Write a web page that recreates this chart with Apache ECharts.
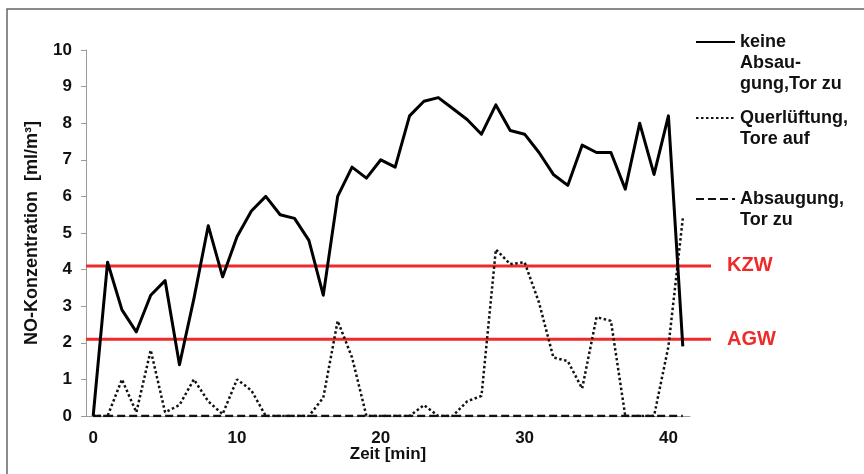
<!DOCTYPE html>
<html>
<head>
<meta charset="utf-8">
<script src="https://cdn.jsdelivr.net/npm/echarts@6/dist/echarts.min.js"></script>
<style>
  html, body { margin: 0; padding: 0; background: #fff; }
  #chart { width: 864px; height: 474px; }
</style>
</head>
<body>
<div id="chart"></div>
<script>
// Zeit [min]
var minutes = [];
for (var i = 0; i <= 41; i++) minutes.push(String(i));

// NO-Konzentration [ml/m³]
var keineAbsaugung = [0, 4.2, 2.9, 2.3, 3.3, 3.7, 1.4, 3.2, 5.2, 3.8,
    4.9, 5.6, 6.0, 5.5, 5.4, 4.8, 3.3, 6.0, 6.8, 6.5,
    7.0, 6.8, 8.2, 8.6, 8.7, 8.4, 8.1, 7.7, 8.5, 7.8,
    7.7, 7.2, 6.6, 6.3, 7.4, 7.2, 7.2, 6.2, 8.0, 6.6,
    8.2, 1.9];
var querlueftung = [0, 0, 1.0, 0.1, 1.8, 0.1, 0.3, 1.0, 0.4, 0.05,
    1.0, 0.7, 0, 0, 0, 0, 0.5, 2.6, 1.6, 0,
    0, 0, 0, 0.3, 0, 0, 0.4, 0.55, 4.55, 4.15,
    4.2, 3.1, 1.6, 1.5, 0.75, 2.7, 2.6, 0, 0, 0,
    1.9, 5.4];
var absaugung = [0, 0, 0, 0, 0, 0, 0, 0, 0, 0,
    0, 0, 0, 0, 0, 0, 0, 0, 0, 0,
    0, 0, 0, 0, 0, 0, 0, 0, 0, 0,
    0, 0, 0, 0, 0, 0, 0, 0, 0, 0,
    0, 0];

// Grenzwerte
var limitNames = ['KZW', 'AGW'];
var limitValues = [4.1, 2.1];

var seriesNames = ['keine\nAbsau-\ngung,Tor zu', 'Querlüftung,\nTore auf', 'Absaugung,\nTor zu'];

var myChart = echarts.init(document.getElementById('chart'));

var fontFam = '"Liberation Sans", Arial, sans-serif';
var red = '#ee2a2a';
var axisGrey = '#9a9a9a';

// legende: icon auf Höhe der ersten Textzeile (leere Zeilen oben zum Zentrieren)
function legendItem(name, lines, top) {
    return {
        left: 695,
        top: top,
        padding: 0,
        orient: 'vertical',
        itemWidth: 39,
        itemHeight: 14,
        data: [name],
        itemStyle: { opacity: 0 },
        formatter: function (n) {
            var pre = '';
            for (var k = 1; k < lines; k++) pre += '\n';
            return pre + n;
        },
        textStyle: {
            fontFamily: fontFam,
            fontWeight: 'bold',
            fontSize: 18,
            lineHeight: 21,
            color: '#111'
        }
    };
}

var limitSeries = limitNames.map(function (n, k) {
    return {
        name: n,
        type: 'line',
        xAxisIndex: 1,
        yAxisIndex: 1,
        data: [[0, limitValues[k]], [1, limitValues[k]]],
        symbol: 'none',
        silent: true,
        z: 1,
        lineStyle: { color: red, width: 3 },
        endLabel: {
            show: true,
            formatter: n,
            distance: 16,
            color: red,
            fontFamily: fontFam,
            fontWeight: 'bold',
            fontSize: 20
        }
    };
});

option = {
    backgroundColor: '#fff',
    animation: false,
    graphic: [{
        type: 'rect',
        shape: { x: 7, y: 9, width: 880, height: 500 },
        style: { fill: 'none', stroke: '#666', lineWidth: 1.5 },
        silent: true
    }],
    legend: [
        legendItem(seriesNames[0], 3, -10.5),
        legendItem(seriesNames[1], 2, 86.5),
        legendItem(seriesNames[2], 2, 167.5)
    ],
    grid: [
        { left: 86, right: 174, top: 50, bottom: 58, containLabel: false },
        { left: 86, right: 153, top: 50, bottom: 58, containLabel: false }
    ],
    xAxis: [{
        type: 'category',
        gridIndex: 0,
        data: minutes,
        boundaryGap: true,
        name: 'Zeit [min]',
        nameLocation: 'middle',
        nameGap: 30,
        nameMoveOverlap: false,
        nameTextStyle: { fontFamily: fontFam, fontWeight: 'bold', fontSize: 17, color: '#111' },
        axisLine: { lineStyle: { color: axisGrey, width: 1 } },
        axisTick: { interval: 0, alignWithLabel: true, length: 5, lineStyle: { color: axisGrey } },
        axisLabel: {
            interval: 9,
            margin: 14,
            fontFamily: fontFam,
            fontWeight: 'bold',
            fontSize: 17,
            color: '#111'
        },
        splitLine: { show: false }
    }, {
        type: 'value',
        gridIndex: 1,
        min: 0,
        max: 1,
        show: false
    }],
    yAxis: [{
        type: 'value',
        gridIndex: 0,
        min: 0,
        max: 10,
        interval: 1,
        name: 'NO-Konzentration  [ml/m³]',
        nameLocation: 'middle',
        nameGap: 45,
        nameTextStyle: { fontFamily: fontFam, fontWeight: 'bold', fontSize: 18, color: '#111' },
        axisLine: { show: true, lineStyle: { color: axisGrey, width: 1 } },
        axisTick: { show: true, length: 5, lineStyle: { color: axisGrey } },
        axisLabel: {
            margin: 14,
            fontFamily: fontFam,
            fontWeight: 'bold',
            fontSize: 17,
            color: '#111'
        },
        splitLine: { show: false }
    }, {
        type: 'value',
        gridIndex: 1,
        min: 0,
        max: 10,
        show: false
    }],
    series: [{
        name: seriesNames[0],
        type: 'line',
        data: keineAbsaugung,
        symbol: 'none',
        z: 4,
        lineStyle: { color: '#000', width: 3, type: 'solid', join: 'round' }
    }, {
        name: seriesNames[1],
        type: 'line',
        data: querlueftung,
        symbol: 'none',
        z: 3,
        lineStyle: { color: '#111', width: 2.5, type: [2.5, 2.5] }
    }, {
        name: seriesNames[2],
        type: 'line',
        data: absaugung,
        symbol: 'none',
        z: 3,
        lineStyle: { color: '#111', width: 2.5, type: [8, 4] }
    }].concat(limitSeries)
};

myChart.setOption(option);
</script>
</body>
</html>
